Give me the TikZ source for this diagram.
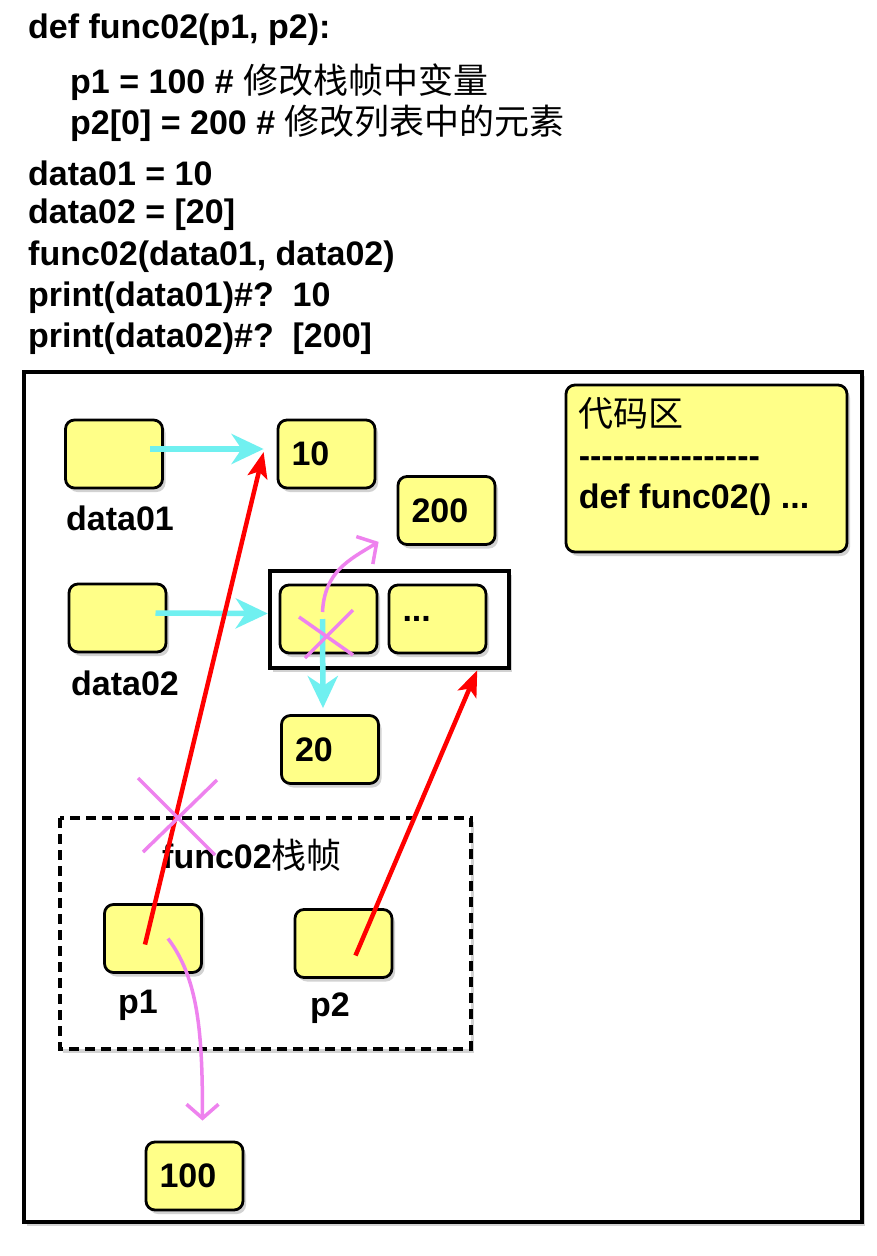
\documentclass[tikz,border=0pt]{standalone}
\usepackage{fontspec}
\setmainfont{Liberation Sans}
\newfontfamily\cjk{Noto Sans CJK SC}
\usetikzlibrary{arrows.meta,shadows}

\definecolor{cellyellow}{RGB}{255,255,136}
\definecolor{cyanline}{RGB}{112,240,240}
\definecolor{pinkline}{RGB}{238,130,238}
\newcommand\boxfont{\bfseries\fontsize{34}{41}\selectfont}
\newcommand\hanzi[1]{{\cjk\mdseries\fontsize{35}{41}\selectfont #1}}

\tikzset{
  softshadow/.style={drop shadow={shadow xshift=3pt,shadow yshift=-4pt,opacity=.35}},
  cell/.style={draw, line width=2.8pt, rounded corners=9pt, fill=cellyellow,
    minimum width=97pt, minimum height=68pt, softshadow},
  valcell/.style={cell, text width=70pt, align=left, font=\boxfont},
  lbl/.style={font=\boxfont},
  codeline/.style={anchor=west, inner sep=0pt, font=\boxfont},
  pointer/.style={cyanline, line width=5.5pt, -{Stealth[length=32pt,width=30pt,inset=10pt]}},
  param/.style={red, line width=4.5pt, -{Stealth[length=26pt,width=20pt,inset=6pt]}},
  rebind/.style={pinkline, line width=3.5pt, -{Straight Barb[length=14pt,width=32pt]}},
  strike/.style={pinkline, line width=3.5pt}
}

\begin{document}
\begin{tikzpicture}[x=1pt,y=-1pt]
\useasboundingbox (0,0) rectangle (877,1256);

% code
\node[codeline] (l1) at (28,30) {def func02(p1, p2):};
\node[codeline] (l2) at (70,82) {p1 = 100 \# \hanzi{修改栈帧中变量}};
\node[codeline] (l3) at (70,123) {p2[0] = 200 \# \hanzi{修改列表中的元素}};
\node[codeline] (l4) at (28,173) {data01 = 10};
\node[codeline] (l5) at (28,215) {data02 = [20]};
\node[codeline] (l6) at (28,257) {func02(data01, data02)};
\node[codeline] (l7) at (28,298) {print(data01)\#?~~10};
\node[codeline] (l8) at (28,339) {print(data02)\#?~~[200]};

% memory
\draw[line width=4.5pt, fill=white, softshadow] (24,372) rectangle (862,1222);

\node[cell] (d1) at (114,454) {};
\node[lbl] (d1n) at (120,518) {data01};
\node[valcell] (v10) at (326.5,454) {10};
\node[valcell] (v200) at (446.5,510.5) {200};

\node[draw, line width=4.5pt, fill=white, minimum width=239pt, minimum height=97pt, softshadow] (lst) at (389.5,619.5) {};
\node[cell] (d2) at (117.5,618) {};
\node[lbl] (d2n) at (125,683) {data02};
\node[cell] (e0) at (328.5,619) {};
\node[valcell] (e1) at (437.5,619) {...};
\node[valcell] (v20) at (330,749.5) {20};

\node[cell, minimum width=281pt, minimum height=167pt] (area) at (706.5,468.5) {};
\node[anchor=north west, align=left, inner sep=0pt, font=\boxfont] (areatext) at ([xshift=14pt,yshift=-14pt]area.north west)
  {\hanzi{代码区}\\-{}-{}-{}-{}-{}-{}-{}-{}-{}-{}-{}-{}-{}-{}-{}-{}\\def func02() ...};

% stack frame
\draw[line width=3.5pt, dash pattern=on 10pt off 6pt, fill=white, softshadow] (60,818) rectangle (471,1049);
\node[lbl] (frame) at (252,855) {func02\hanzi{栈帧}};
\node[cell] (p1) at (153,938.5) {};
\node[lbl] (p1n) at (138,1005) {p1};
\node[cell] (p2) at (343.5,943.5) {};
\node[lbl] (p2n) at (330,1008) {p2};
\node[valcell] (v100) at (194.5,1176) {100};

% references
\draw[pointer] ([xshift=36pt,yshift=5pt]d1.center) -- ([xshift=-13pt,yshift=5pt]v10.west);
\draw[pointer] ([xshift=38pt,yshift=5pt]d2.center) -- ([yshift=6pt]lst.west);
\draw[pointer] ([xshift=-6pt]e0.center) -- ([xshift=-7pt,yshift=6pt]v20.north);
\draw[param] ([xshift=-8pt,yshift=-6pt]p1.center) -- ([xshift=-13pt,yshift=2pt]v10.west);
\draw[param] ([xshift=12pt,yshift=-12pt]p2.center) -- ([xshift=-34pt]lst.south east);
\draw[rebind] ([xshift=-6pt,yshift=7pt]e0.center) .. controls +(2,-40) and +(-30,18) .. ([xshift=-18pt,yshift=4pt]v200.south west);
\draw[rebind] ([xshift=15pt]p1.center) .. controls +(30,40) and +(0,-90) .. ([xshift=8pt,yshift=20pt]v100.north);
\draw[strike] (299,617) -- (353,655) (305,658) -- (353,610);
\draw[strike] (138,778) -- (215,855) (217,780) -- (143,852);
\end{tikzpicture}
\end{document}
